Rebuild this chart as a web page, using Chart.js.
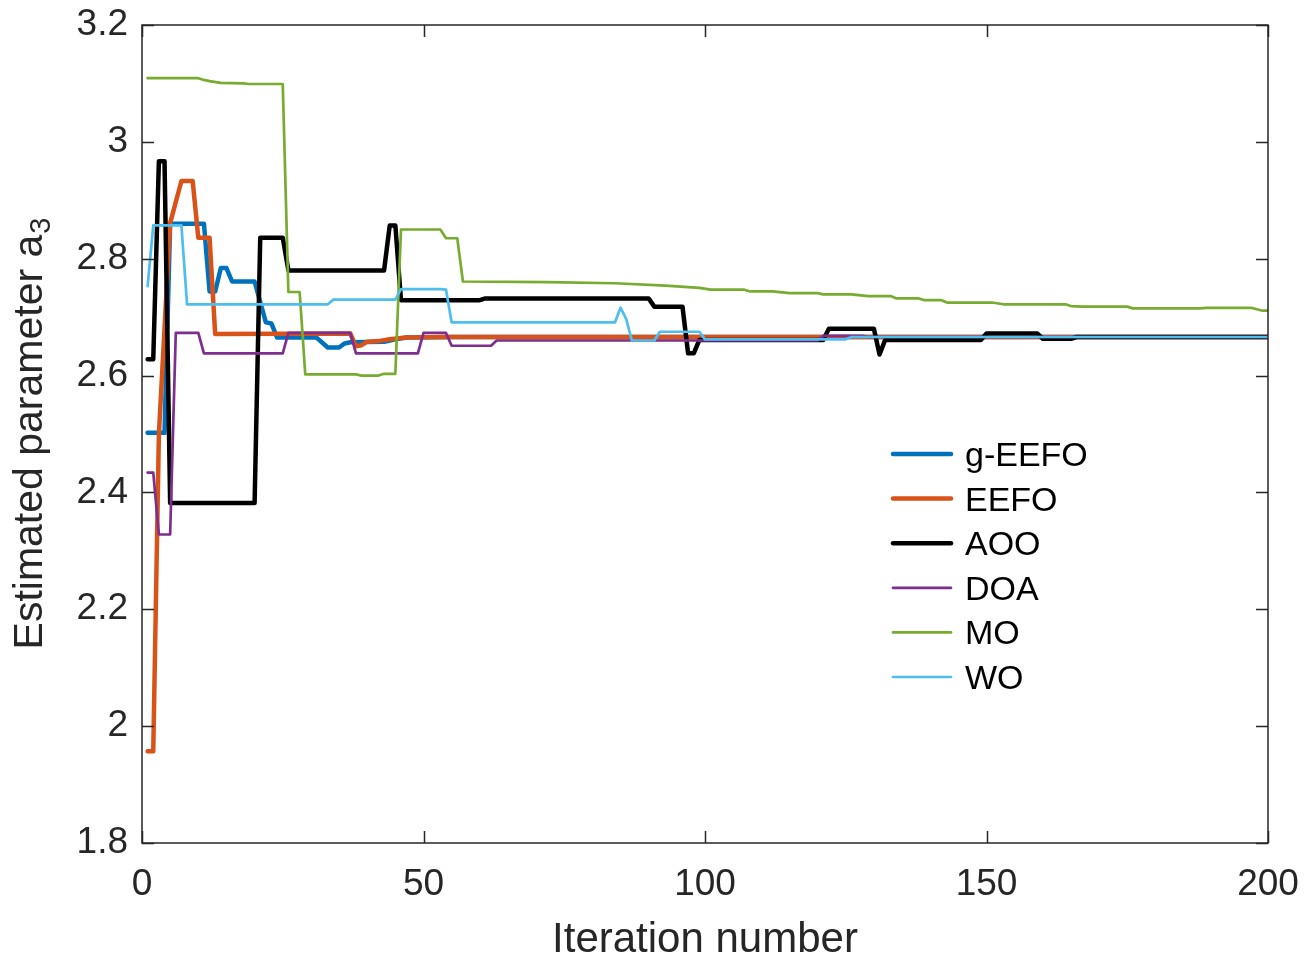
<!DOCTYPE html>
<html>
<head>
<meta charset="utf-8">
<title>Estimated parameter a3 vs iteration</title>
<script src="https://cdn.jsdelivr.net/npm/chart.js@4.4.1/dist/chart.umd.min.js"></script>
<style>
  html, body { margin: 0; padding: 0; background: #fff; }
  #chart { display: block; }
</style>
</head>
<body>
<canvas id="chart" width="1316" height="956"></canvas>
<script>
// [iteration, estimated a3] at every iteration where a run starts or ends
const geefo = [[1,2.502],[4,2.502],[5,2.860],[11,2.860],[12,2.744],[13,2.744],[14,2.784],[15,2.784],
  [16,2.761],[20,2.761],[22,2.691],[23,2.689],[24,2.665],[31,2.665],[33,2.648],[35,2.648],[36,2.655],
  [37,2.657],[43,2.658],[45,2.662],[47,2.665],[55,2.666],[200,2.666]];
const eefo = [[1,1.957],[2,1.957],[3,2.500],[5,2.861],[7,2.933],[9,2.933],[10,2.836],[12,2.836],
  [13,2.671],[37,2.672],[38,2.650],[39,2.652],[40,2.658],[42,2.659],[44,2.662],[47,2.665],[55,2.666],[200,2.666]];
const aoo = [[1,2.628],[2,2.628],[3,2.967],[4,2.967],[5,2.382],[20,2.382],[21,2.836],[25,2.836],
  [26,2.780],[43,2.780],[44,2.857],[45,2.857],[46,2.729],[60,2.729],[61,2.732],[90,2.732],[91,2.718],
  [96,2.718],[97,2.638],[98,2.638],[99,2.661],[121,2.661],[122,2.680],[130,2.680],[131,2.636],
  [132,2.661],[149,2.661],[150,2.672],[159,2.672],[160,2.663],[165,2.663],[166,2.666],[200,2.666]];
const doa = [[1,2.434],[2,2.434],[3,2.328],[5,2.328],[6,2.673],[10,2.673],[11,2.638],[25,2.638],
  [26,2.673],[37,2.673],[38,2.638],[49,2.638],[50,2.673],[54,2.673],[55,2.651],[62,2.651],[63,2.660],
  [120,2.660],[121,2.668],[128,2.668],[129,2.666],[200,2.666]];
const mo = [[1,3.109],[10,3.109],[11,3.106],[12,3.104],[14,3.101],[18,3.100],[19,3.099],[25,3.099],
  [26,2.743],[28,2.743],[29,2.602],[38,2.602],[39,2.600],[42,2.600],[43,2.603],[45,2.603],[46,2.850],
  [53,2.850],[54,2.835],[56,2.835],[57,2.761],[72,2.760],[84,2.758],[93,2.754],[99,2.750],[101,2.747],
  [107,2.747],[108,2.744],[112,2.744],[115,2.741],[120,2.741],[121,2.739],[126,2.739],[129,2.736],
  [133,2.736],[134,2.732],[138,2.732],[139,2.729],[142,2.729],[143,2.725],[151,2.725],[153,2.722],
  [164,2.722],[165,2.719],[167,2.718],[175,2.718],[176,2.715],[188,2.715],[189,2.716],[197,2.716],
  [199,2.711],[200,2.711]];
const wo = [[1,2.753],[2,2.857],[7,2.857],[8,2.722],[33,2.722],[34,2.730],[45,2.730],[46,2.748],
  [53,2.748],[54,2.747],[55,2.691],[84,2.691],[85,2.716],[86,2.697],[87,2.660],[91,2.660],[92,2.675],
  [99,2.675],[100,2.662],[125,2.662],[126,2.666],[200,2.666]];

const seriesNames = ['g-EEFO', 'EEFO', 'AOO', 'DOA', 'MO', 'WO'];
const xTicks = [0, 50, 100, 150, 200];
const xTickLabels = ['0', '50', '100', '150', '200'];
const yTicks = [1.8, 2, 2.2, 2.4, 2.6, 2.8, 3, 3.2];
const yTickLabels = ['1.8', '2', '2.2', '2.4', '2.6', '2.8', '3', '3.2'];

const FONT = '"Liberation Sans", Arial, Helvetica, sans-serif';
const AXIS_COLOR = '#262626';

// matlab default line colours, AOO forced to black
const styles = [
  { color: '#0072BD', width: 4.5 },
  { color: '#D95319', width: 4.5 },
  { color: '#000000', width: 4.5 },
  { color: '#7E2F8E', width: 2.7 },
  { color: '#77AC30', width: 2.7 },
  { color: '#4DBEEE', width: 2.7 }
];

const allSeries = [geefo, eefo, aoo, doa, mo, wo];

const datasets = allSeries.map((pts, i) => ({
  label: seriesNames[i],
  data: pts.map(p => ({ x: p[0], y: p[1] })),
  borderColor: styles[i].color,
  borderWidth: styles[i].width,
  pointRadius: 0,
  tension: 0,
  fill: false,
  borderJoinStyle: 'round',
  borderCapStyle: 'round',
  // later series are painted over earlier ones
  order: allSeries.length - i
}));

// box, inward ticks, axis titles and the legend
const framePlugin = {
  id: 'frame',
  afterDatasetsDraw(chart) {
    const { ctx, chartArea: a, scales } = chart;
    const xs = scales.x, ys = scales.y;
    ctx.save();

    ctx.strokeStyle = AXIS_COLOR;
    ctx.lineWidth = 1.5;
    ctx.strokeRect(a.left, a.top, a.right - a.left, a.bottom - a.top);

    const tl = 12;
    ctx.beginPath();
    xTicks.forEach(v => {
      const px = Math.round(xs.getPixelForValue(v)) + 0.5;
      ctx.moveTo(px, a.bottom); ctx.lineTo(px, a.bottom - tl);
      ctx.moveTo(px, a.top); ctx.lineTo(px, a.top + tl);
    });
    yTicks.forEach(v => {
      const py = Math.round(ys.getPixelForValue(v)) + 0.5;
      ctx.moveTo(a.left, py); ctx.lineTo(a.left + tl, py);
      ctx.moveTo(a.right, py); ctx.lineTo(a.right - tl, py);
    });
    ctx.stroke();

    // x title
    ctx.fillStyle = AXIS_COLOR;
    ctx.font = '42px ' + FONT;
    ctx.textAlign = 'center';
    ctx.textBaseline = 'alphabetic';
    ctx.fillText('Iteration number', (a.left + a.right) / 2, 952);

    // y title with subscript 3
    const main = 'Estimated parameter a';
    ctx.font = '41px ' + FONT;
    const wMain = ctx.measureText(main).width;
    ctx.font = '29px ' + FONT;
    const wSub = ctx.measureText('3').width;
    ctx.save();
    ctx.translate(42, (a.top + a.bottom) / 2);
    ctx.rotate(-Math.PI / 2);
    ctx.textAlign = 'left';
    const x0 = -(wMain + wSub) / 2;
    ctx.font = '41px ' + FONT;
    ctx.fillText(main, x0, 0);
    ctx.font = '29px ' + FONT;
    ctx.fillText('3', x0 + wMain + 1, 8);
    ctx.restore();

    // legend inside the axes
    const lx = a.left + 751, ly = a.top + 429, row = 44.6;
    ctx.font = '34px ' + FONT;
    ctx.textAlign = 'left';
    seriesNames.forEach((name, i) => {
      const y = ly + i * row;
      ctx.strokeStyle = styles[i].color;
      ctx.lineWidth = styles[i].width;
      ctx.lineCap = 'round';
      ctx.beginPath();
      ctx.moveTo(lx, y);
      ctx.lineTo(lx + 58, y);
      ctx.stroke();
      ctx.fillStyle = '#000';
      ctx.fillText(name, lx + 72, y + 12);
    });

    ctx.restore();
  }
};

new Chart(document.getElementById('chart'), {
  type: 'line',
  data: { datasets: datasets },
  options: {
    responsive: false,
    animation: false,
    events: [],
    layout: { padding: { top: 25, right: 48, left: 0, bottom: 0 } },
    plugins: {
      legend: { display: false },
      tooltip: { enabled: false }
    },
    scales: {
      x: {
        type: 'linear',
        min: 0,
        max: 200,
        afterBuildTicks: s => { s.ticks = xTicks.map(v => ({ value: v })); },
        afterFit: s => { s.height = 113; s.paddingLeft = 0; s.paddingRight = 0; },
        grid: { display: false, drawTicks: false },
        border: { display: false },
        ticks: {
          padding: 20,
          color: AXIS_COLOR,
          font: { family: FONT, size: 37 },
          maxRotation: 0,
          callback: (v, i) => xTickLabels[i]
        }
      },
      y: {
        type: 'linear',
        min: 1.8,
        max: 3.2,
        afterBuildTicks: s => { s.ticks = yTicks.map(v => ({ value: v })); },
        afterFit: s => { s.width = 142; s.paddingTop = 0; s.paddingBottom = 0; },
        grid: { display: false, drawTicks: false },
        border: { display: false },
        ticks: {
          padding: 14,
          color: AXIS_COLOR,
          font: { family: FONT, size: 37 },
          callback: (v, i) => yTickLabels[i]
        }
      }
    }
  },
  plugins: [framePlugin]
});
</script>
</body>
</html>
